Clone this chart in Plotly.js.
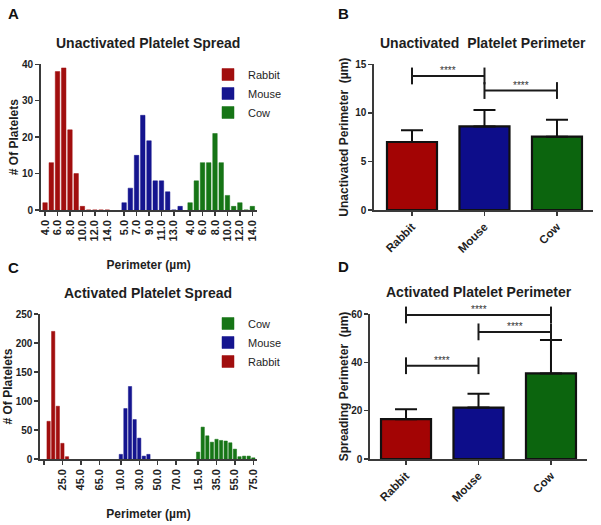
<!DOCTYPE html>
<html><head><meta charset="utf-8">
<script src="https://cdn.plot.ly/plotly-3.0.1.min.js"></script>
<style>html,body{margin:0;padding:0;background:#fff}#chart{width:601px;height:525px}</style>
</head><body><div id="chart"></div>
<script>
// ---------- Data ----------
const species = ['Rabbit', 'Mouse', 'Cow'];

// Panel A: unactivated perimeter histograms (bin centre, µm)
const rabbitUnactBins   = [4, 5, 6, 7, 8, 9, 10, 11, 12, 13, 14];
const rabbitUnactCounts = [2, 13, 38, 39, 22, 10, 1, 0, 0, 0, 0];
const mouseUnactBins    = [5, 6, 7, 8, 9, 10, 11, 12, 13, 14];
const mouseUnactCounts  = [2, 6, 15, 26, 19, 8, 8, 5, 0, 1];
const cowUnactBins      = [4, 5, 6, 7, 8, 9, 10, 11, 12, 13, 14];
const cowUnactCounts    = [2, 8, 13, 13, 21, 13, 4, 1, 2, 0, 1];
const rabbitUnactTicks  = [4, 6, 8, 10, 12, 14];
const mouseUnactTicks   = [5, 7, 9, 11, 13];
const cowUnactTicks     = [4, 6, 8, 10, 12, 14];

// Panel C: activated perimeter histograms (bin centre, µm)
const rabbitActBins   = [10, 15, 20, 25, 30];
const rabbitActCounts = [65, 220, 91, 27, 4];
const mouseActBins    = [10, 15, 20, 25, 30, 35, 40];
const mouseActCounts  = [8, 87, 125, 68, 36, 5, 8];
const cowActBins      = [15, 20, 25, 30, 35, 40, 45, 50, 55, 60, 65, 70, 75];
const cowActCounts    = [12, 55, 40, 29, 34, 32, 31, 28, 17, 4, 5, 5, 2];
const rabbitActTicks  = [5, 25, 45, 65];
const rabbitActTickText = ['', '25.0', '45.0', '65.0'];
const mouseActTicks   = [10, 30, 50, 70];
const cowActTicks     = [15, 35, 55, 75];

// Panel B: unactivated mean perimeter + SD
const unactMeans = [7.0, 8.6, 7.55];
const unactSD    = [1.2, 1.7, 1.75];
const unactComparisons = [['Rabbit', 'Mouse', 13.8], ['Mouse', 'Cow', 12.3]];

// Panel D: activated (spreading) mean perimeter + SD
const actMeans = [16.5, 21.3, 35.4];
const actSD    = [4.1, 5.7, 13.8];
const actComparisons = [['Rabbit', 'Cow', 59.6], ['Mouse', 'Cow', 52.6], ['Rabbit', 'Mouse', 38.6]];
const sigLabel = '****';

// ---------- Styling ----------
const FONT = 'Liberation Sans, Arial, Helvetica, sans-serif';
const TXT = '#1e1e1e';
const AX = '#3a3a3a';
const colors = {Rabbit: '#a10e0e', Mouse: '#15158f', Cow: '#167516'};
const barColors = {Rabbit: '#a30404', Mouse: '#0d0d8a', Cow: '#0c650e'};

// segment layout for the grouped histograms (axis positions)
const segA = {Rabbit: {start: 4, pos: 0}, Mouse: {start: 5, pos: 12.7}, Cow: {start: 4, pos: 23.3}};
const segC = {Rabbit: {start: 5, pos: 0}, Mouse: {start: 10, pos: 16.7}, Cow: {start: 15, pos: 33.5}};
const posA = (sp, v) => segA[sp].pos + (v - segA[sp].start);
const posC = (sp, v) => segC[sp].pos + (v - segC[sp].start) / 5;

const traces = [];
const histA = {Rabbit: [rabbitUnactBins, rabbitUnactCounts], Mouse: [mouseUnactBins, mouseUnactCounts], Cow: [cowUnactBins, cowUnactCounts]};
const histC = {Rabbit: [rabbitActBins, rabbitActCounts], Mouse: [mouseActBins, mouseActCounts], Cow: [cowActBins, cowActCounts]};

species.forEach(sp => {
  traces.push({
    type: 'bar', name: sp, x: histA[sp][0].map(v => posA(sp, v)), y: histA[sp][1],
    width: 0.72, xaxis: 'x', yaxis: 'y', legend: 'legend',
    marker: {color: colors[sp], line: {color: colors[sp], width: 0.5}}, hoverinfo: 'y'
  });
});
species.forEach(sp => {
  traces.push({
    type: 'bar', name: sp, x: histC[sp][0].map(v => posC(sp, v)), y: histC[sp][1],
    width: 0.72, xaxis: 'x3', yaxis: 'y3', legend: 'legend2',
    marker: {color: colors[sp], line: {color: colors[sp], width: 0.5}}, hoverinfo: 'y'
  });
});

function meanBar(means, sd, xa, ya) {
  return {
    type: 'bar', x: species, y: means, width: 0.69, xaxis: xa, yaxis: ya, showlegend: false,
    marker: {color: species.map(s => barColors[s]), line: {color: '#111', width: 2.2}},
    error_y: {type: 'data', symmetric: false, array: sd, arrayminus: sd.map(() => 0),
              color: '#111', thickness: 2, width: 11}
  };
}
traces.push(meanBar(unactMeans, unactSD, 'x2', 'y2'));
traces.push(meanBar(actMeans, actSD, 'x4', 'y4'));

const annotations = [];
function brackets(comps, xa, ya) {
  comps.forEach(([a, b, h]) => {
    traces.push({
      type: 'scatter', mode: 'lines+markers', x: [a, b], y: [h, h], xaxis: xa, yaxis: ya,
      showlegend: false, hoverinfo: 'skip', cliponaxis: false,
      line: {color: '#1a1a1a', width: 2},
      marker: {symbol: 'line-ns-open', size: 12, line: {color: '#1a1a1a', width: 2}}
    });
    const ia = species.indexOf(a), ib = species.indexOf(b);
    annotations.push({
      xref: xa, yref: ya, x: (ia + ib) / 2, y: h, text: sigLabel, showarrow: false,
      yanchor: 'middle', yshift: 5, font: {family: FONT, size: 10, color: '#333'}
    });
  });
}
brackets(unactComparisons, 'x2', 'y2');
brackets(actComparisons, 'x4', 'y4');

// ---------- Layout ----------
const W = 601, H = 525;
const dx = (a, b) => [a / W, b / W];
const dy = (top, bot) => [1 - bot / H, 1 - top / H];
const tickFont = {family: FONT, size: 10, color: TXT, weight: 'bold'};
const xTickFont = {family: FONT, size: 11, color: TXT, weight: 'bold'};
const catTickFont = {family: FONT, size: 11.5, color: TXT, weight: 'bold'};
const titleFont = {family: FONT, size: 12, color: TXT, weight: 'bold'};
const common = {showline: true, linecolor: AX, linewidth: 1.6, ticks: 'outside', ticklen: 4,
  tickwidth: 1.4, tickcolor: AX, showgrid: false, zeroline: false, tickfont: tickFont, fixedrange: true};

function histTicks(segPos, list) {
  const vals = [], text = [];
  list.forEach(([sp, ticks, labels]) => {
    ticks.forEach((t, i) => { vals.push(segPos(sp, t)); text.push(labels ? labels[i] : t.toFixed(1)); });
  });
  return {vals, text};
}
const ticksA = histTicks(posA, [['Rabbit', rabbitUnactTicks], ['Mouse', mouseUnactTicks], ['Cow', cowUnactTicks]]);
const ticksC = histTicks(posC, [['Rabbit', rabbitActTicks, rabbitActTickText], ['Mouse', mouseActTicks], ['Cow', cowActTicks]]);

const layout = {
  width: W, height: H, margin: {l: 0, r: 0, t: 0, b: 0},
  paper_bgcolor: '#fff', plot_bgcolor: '#fff', barmode: 'overlay',
  font: {family: FONT, color: TXT},
  xaxis: Object.assign({}, common, {domain: dx(40.7, 256.7), range: [-0.7, 34.0], anchor: 'y',
    tickmode: 'array', tickvals: ticksA.vals, ticktext: ticksA.text, tickangle: -90, tickfont: xTickFont,
    title: {text: 'Perimeter (µm)', font: titleFont, standoff: 20}}),
  yaxis: Object.assign({}, common, {domain: dy(64.3, 210), range: [0, 40], dtick: 10, anchor: 'x',
    title: {text: '# Of Platelets', font: titleFont, standoff: 1}}),
  xaxis2: Object.assign({}, common, {domain: dx(374, 593), range: [-0.524, 2.497], anchor: 'y2',
    type: 'category', tickangle: -45, tickfont: catTickFont}),
  yaxis2: Object.assign({}, common, {domain: dy(64.3, 210), range: [0, 15], dtick: 5, anchor: 'x2',
    title: {text: 'Unactivated Perimeter  (µm)', font: titleFont, standoff: 4}}),
  xaxis3: Object.assign({}, common, {domain: dx(40, 257), range: [-0.87, 46.3], anchor: 'y3',
    tickmode: 'array', tickvals: ticksC.vals, ticktext: ticksC.text, tickangle: -90, tickfont: xTickFont,
    title: {text: 'Perimeter (µm)', font: titleFont, standoff: 20}}),
  yaxis3: Object.assign({}, common, {domain: dy(314, 459), range: [0, 250], dtick: 50, anchor: 'x3',
    title: {text: '# Of Platelets', font: titleFont, standoff: 0}}),
  xaxis4: Object.assign({}, common, {domain: dx(370, 587), range: [-0.497, 2.497], anchor: 'y4',
    type: 'category', tickangle: -45, tickfont: catTickFont}),
  yaxis4: Object.assign({}, common, {domain: dy(314, 459), range: [0, 60], dtick: 20, anchor: 'x4',
    title: {text: 'Spreading Perimeter  (µm)', font: titleFont, standoff: 0}}),
  legend: {x: 208 / W, y: 1 - 60 / H, xanchor: 'left', yanchor: 'top', bgcolor: 'rgba(0,0,0,0)',
    font: {family: FONT, size: 11, color: TXT}, tracegroupgap: 0, itemclick: false},
  legend2: {x: 208 / W, y: 1 - 309 / H, xanchor: 'left', yanchor: 'top', bgcolor: 'rgba(0,0,0,0)',
    traceorder: 'reversed', font: {family: FONT, size: 11, color: TXT}, itemclick: false},
  annotations: annotations.concat([
    {text: 'Unactivated Platelet Spread', x: 148 / W, y: 1 - 43 / H},
    {text: 'Unactivated  Platelet Perimeter', x: 483 / W, y: 1 - 43 / H},
    {text: 'Activated Platelet Spread', x: 148 / W, y: 1 - 293 / H},
    {text: 'Activated Platelet Perimeter', x: 479 / W, y: 1 - 292 / H}
  ].map(a => Object.assign(a, {xref: 'paper', yref: 'paper', showarrow: false, xanchor: 'center', yanchor: 'middle',
    font: {family: FONT, size: 14, color: TXT, weight: 'bold'}})))
  .concat([
    {text: 'A', x: 13 / W, y: 1 - 14 / H}, {text: 'B', x: 343 / W, y: 1 - 14 / H},
    {text: 'C', x: 13 / W, y: 1 - 267 / H}, {text: 'D', x: 343 / W, y: 1 - 266 / H}
  ].map(a => Object.assign(a, {xref: 'paper', yref: 'paper', showarrow: false, xanchor: 'center', yanchor: 'middle',
    font: {family: FONT, size: 15, color: '#111', weight: 'bold'}})))
};

Plotly.newPlot('chart', traces, layout, {displayModeBar: false, staticPlot: true});
</script></body></html>
